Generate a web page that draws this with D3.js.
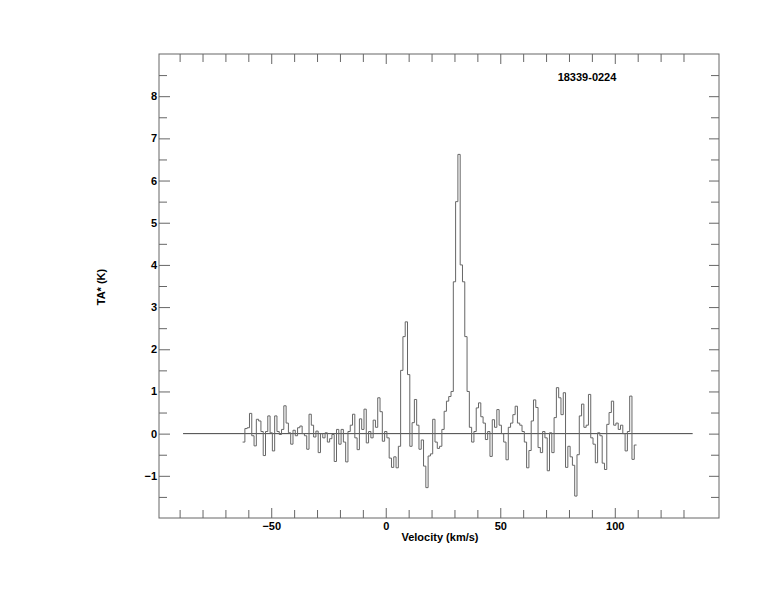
<!DOCTYPE html>
<html>
<head>
<meta charset="utf-8">
<script src="https://cdn.jsdelivr.net/npm/d3@7"></script>
<style>
  html, body { margin: 0; padding: 0; background: #fff; }
  svg text { font-family: "Liberation Sans", Arial, Helvetica, sans-serif; font-weight: bold; fill: #000; }
</style>
</head>
<body>
<svg id="chart" width="774" height="612"></svg>
<script>
// ---- data ----
const title = "18339-0224";
const xLabel = "Velocity (km/s)";
const yLabel = "TA* (K)";
const vStart = -62;      // velocity of first channel (km/s)
const vStep = 1;         // channel width (km/s)
const tA = [
  -0.2, 0.12, 0.14, 0.48, -0.05, -0.29, 0.34, 0.3, 0.05, -0.52,
  0.05, 0.42, 0.02, -0.41, 0.42, 0.05, -0.02, 0.1, 0.66, 0.25,
  0.02, -0.25, 0.08, -0.05, 0.14, 0.18, 0.0, -0.05, -0.37, 0.46,
  0.2, -0.08, 0.06, -0.45, 0.0, -0.1, 0.02, -0.2, -0.12, -0.02,
  -0.66, 0.1, -0.25, 0.1, -0.2, -0.67, 0.05, 0.2, 0.46, -0.1,
  -0.38, 0.35, 0.1, 0.58, -0.22, 0.05, -0.1, 0.32, 0.15, 0.85,
  0.52, -0.18, 0.05, -0.1, -0.58, -0.8, -0.55, -0.81, -0.3, 1.5,
  2.3, 2.65, 1.4, -0.3, 0.26, 0.81, 0.2, -0.37, -0.15, -0.77,
  -1.28, -0.53, -0.48, 0.34, -0.2, -0.35, -0.3, 0.1, 0.53, 0.77,
  0.88, 1.0, 3.6, 5.5, 6.62, 4.0, 3.6, 2.3, 1.0, 0.15,
  -0.2, 0.05, 0.61, 0.73, 0.4, 0.25, -0.14, 0.05, -0.54, 0.33,
  0.15, 0.57, 0.2, 0.0, -0.2, -0.62, 0.15, 0.25, 0.45, 0.65,
  0.25, 0.2, 0.05, -0.2, -0.81, -0.4, 0.3, 0.8, 0.62, -0.33,
  -0.45, 0.05, -0.1, -0.88, 0.02, -0.45, 0.38, 1.09, 0.85, 0.45,
  0.97, -0.8, -0.3, -0.55, -0.75, -1.48, -0.5, 0.42, 0.7, 0.15,
  0.2, 0.93, -0.1, -0.25, -0.69, 0.02, -0.05, -0.7, -0.85, 0.22,
  0.5, 0.77, 0.2, 0.25, 0.1, 0.2, 0.0, -0.41, 0.05, 0.89,
  -0.61, -0.27
];
const baselineRange = [-88.5, 134];
const xDomain = [-99, 145.5];
const yDomain = [-2, 9];
const xMajorTicks = [-50, 0, 50, 100];
const xMinorTicks = [-90, -80, -70, -60, -40, -30, -20, -10, 10, 20, 30, 40, 60, 70, 80, 90, 110, 120, 130];
const yMajorTicks = [-1, 0, 1, 2, 3, 4, 5, 6, 7, 8];
const yMinorTicks = [-1.5, -0.5, 0.5, 1.5, 2.5, 3.5, 4.5, 5.5, 6.5, 7.5, 8.5];

// ---- layout ----
const L = 159, R = 719, T = 54, B = 518;
const svg = d3.select("#chart");
const x = d3.scaleLinear().domain(xDomain).range([L, R]);
const y = d3.scaleLinear().domain(yDomain).range([B, T]);
const axisColor = "#666";

function styleAxis(g) {
  g.select(".domain").remove();
  g.selectAll(".tick line").attr("stroke", axisColor).attr("stroke-width", 1);
  g.selectAll(".tick text").attr("font-size", 11).attr("font-family", null);
}

// bottom
svg.append("g").attr("transform", `translate(0,${B})`)
  .call(d3.axisBottom(x).tickValues(xMajorTicks).tickSize(-10).tickPadding(4).tickFormat(d3.format("d")))
  .call(styleAxis);
svg.append("g").attr("transform", `translate(0,${B})`)
  .call(d3.axisBottom(x).tickValues(xMinorTicks).tickSize(-8).tickFormat(""))
  .call(styleAxis);
// top
svg.append("g").attr("transform", `translate(0,${T})`)
  .call(d3.axisTop(x).tickValues(xMajorTicks).tickSize(-10).tickFormat(""))
  .call(styleAxis);
svg.append("g").attr("transform", `translate(0,${T})`)
  .call(d3.axisTop(x).tickValues(xMinorTicks).tickSize(-8).tickFormat(""))
  .call(styleAxis);
// left
const leftMajor = svg.append("g").attr("transform", `translate(${L},0)`)
  .call(d3.axisLeft(y).tickValues(yMajorTicks).tickSize(-11).tickFormat(d3.format("d")))
  .call(styleAxis);
leftMajor.selectAll(".tick text").attr("x", -2).attr("text-anchor", "end");
svg.append("g").attr("transform", `translate(${L},0)`)
  .call(d3.axisLeft(y).tickValues(yMinorTicks).tickSize(-8).tickFormat(""))
  .call(styleAxis);
// right
svg.append("g").attr("transform", `translate(${R},0)`)
  .call(d3.axisRight(y).tickValues(yMajorTicks).tickSize(-10).tickFormat(""))
  .call(styleAxis);
svg.append("g").attr("transform", `translate(${R},0)`)
  .call(d3.axisRight(y).tickValues(yMinorTicks).tickSize(-8).tickFormat(""))
  .call(styleAxis);

// frame
svg.append("rect").attr("x", L).attr("y", T).attr("width", R - L).attr("height", B - T)
  .attr("fill", "none").attr("stroke", axisColor).attr("stroke-width", 1);

// baseline
svg.append("line")
  .attr("x1", x(baselineRange[0])).attr("x2", x(baselineRange[1]))
  .attr("y1", y(0)).attr("y2", y(0))
  .attr("stroke", "#444").attr("stroke-width", 1);

// spectrum (histogram steps)
const pts = [];
tA.forEach((v, i) => {
  const v0 = vStart + i * vStep - vStep / 2;
  pts.push([v0, v]);
  pts.push([v0 + vStep, v]);
});
svg.append("path")
  .datum(pts)
  .attr("fill", "none")
  .attr("stroke", "#666")
  .attr("stroke-width", 1)
  .attr("d", d3.line().x(d => x(d[0])).y(d => y(d[1])));

// texts
svg.append("text").attr("x", 587).attr("y", 81).attr("text-anchor", "middle").attr("font-size", 11).text(title);
svg.append("text").attr("x", 440).attr("y", 541).attr("text-anchor", "middle").attr("font-size", 11).text(xLabel);
svg.append("text").attr("transform", "translate(105,287) rotate(-90)").attr("text-anchor", "middle").attr("font-size", 11).text(yLabel);
</script>
</body>
</html>
